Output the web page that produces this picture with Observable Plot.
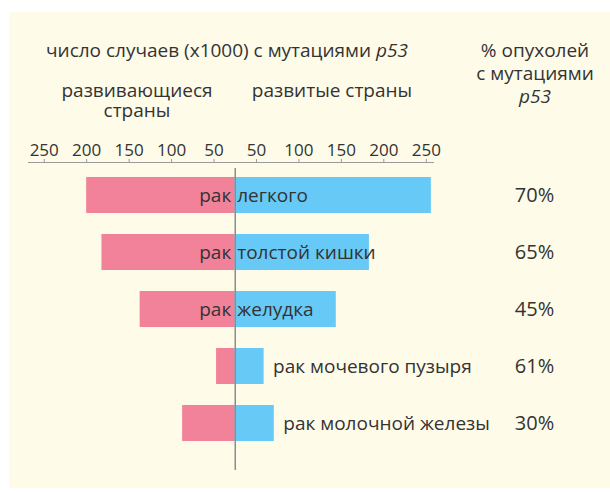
<!DOCTYPE html>
<html><head><meta charset="utf-8">
<script src="https://cdn.jsdelivr.net/npm/d3@7"></script>
<script src="https://cdn.jsdelivr.net/npm/@observablehq/plot@0.6"></script>
<style>
body{margin:0;background:#fff;font-family:"Open Sans",sans-serif;}
#wrap{position:relative;width:610px;height:492px;overflow:hidden;}
#cream{position:absolute;left:9px;top:12px;width:601px;height:476px;background:#fefbe9;}
.h{position:absolute;font-size:19px;line-height:19px;height:19px;color:#333;text-align:center;white-space:nowrap;}
#chart{position:absolute;left:0;top:0;}
</style></head><body>
<div id="wrap">
<div id="cream"></div>
<div id="chart"></div>
<div class="h" style="left:27px;top:41px;width:400px">число случаев (x1000) с мутациями <i>p53</i></div>
<div class="h" style="left:435px;top:41px;width:200px">% опухолей</div>
<div class="h" style="left:435px;top:64px;width:200px">с мутациями</div>
<div class="h" style="left:435px;top:87px;width:200px"><i>p53</i></div>
<div class="h" style="left:37px;top:81px;width:200px">развивающиеся</div>
<div class="h" style="left:37px;top:101px;width:200px">страны</div>
<div class="h" style="left:232px;top:81px;width:200px">развитые страны</div>
</div>
<script>
// data (thousands of cases with p53 mutations)
const names = ["легкого", "толстой кишки", "желудка", "мочевого пузыря", "молочной железы"];
const developing = [175, 157, 112, 22, 62];
const developed = [231, 158, 119, 34, 46];
const percents = ["70%", "65%", "45%", "61%", "30%"];
const tickLabels = [50, 100, 150, 200, 250];

const pink = "#f2819a";
const blue = "#67c9f5";
const ink = "#333";

const rows = names.map((n, i) => ({name: n, developing: developing[i], developed: developed[i], pct: percents[i]}));
const inside = rows.filter(d => d.developed > 100);
const outside = rows.filter(d => d.developed <= 100);

// in the original the tick marks sit half a step off the centre line
const tickVals = tickLabels.flatMap(l => [-(l - 25), l - 25]);

const chart = Plot.plot({
  width: 610,
  height: 492,
  marginTop: 162,
  marginBottom: 22,
  marginLeft: 28,
  marginRight: 177,
  x: {domain: [-250, 250], range: [22.5, 447], label: null},
  y: {domain: names, range: [155, 464], padding: 0.365, axis: null},
  style: {background: "transparent", fontFamily: "Open Sans", color: ink, overflow: "visible"},
  marks: [
    Plot.frame({anchor: "top", stroke: "#9a9a9a"}),
    Plot.axisX(tickVals, {anchor: "top", label: null, tickSize: 4, tickPadding: 3, fontSize: 17, stroke: "#9a9a9a", fill: ink,
      tickFormat: d => String(Math.abs(d) + 25)}),
    Plot.barX(rows, {y: "name", x1: 0, x2: d => -d.developing, fill: pink}),
    Plot.barX(rows, {y: "name", x1: 0, x2: "developed", fill: blue}),
    Plot.ruleX([0], {stroke: "#8c8c8c", strokeWidth: 1.5, insetTop: 6}),
    Plot.text(inside, {y: "name", x: 0, text: () => "рак", textAnchor: "end", dx: -4, fontSize: 19, fill: ink}),
    Plot.text(inside, {y: "name", x: 0, text: "name", textAnchor: "start", dx: 2, fontSize: 19, fill: ink}),
    Plot.text(outside, {y: "name", x: "developed", text: d => "рак " + d.name, textAnchor: "start", dx: 9, fontSize: 19, fill: ink}),
    Plot.text(rows, {y: "name", text: "pct", frameAnchor: "right", dx: 101, textAnchor: "middle", fontSize: 20, fill: ink})
  ]
});
document.getElementById("chart").appendChild(chart);
</script>
</body></html>
